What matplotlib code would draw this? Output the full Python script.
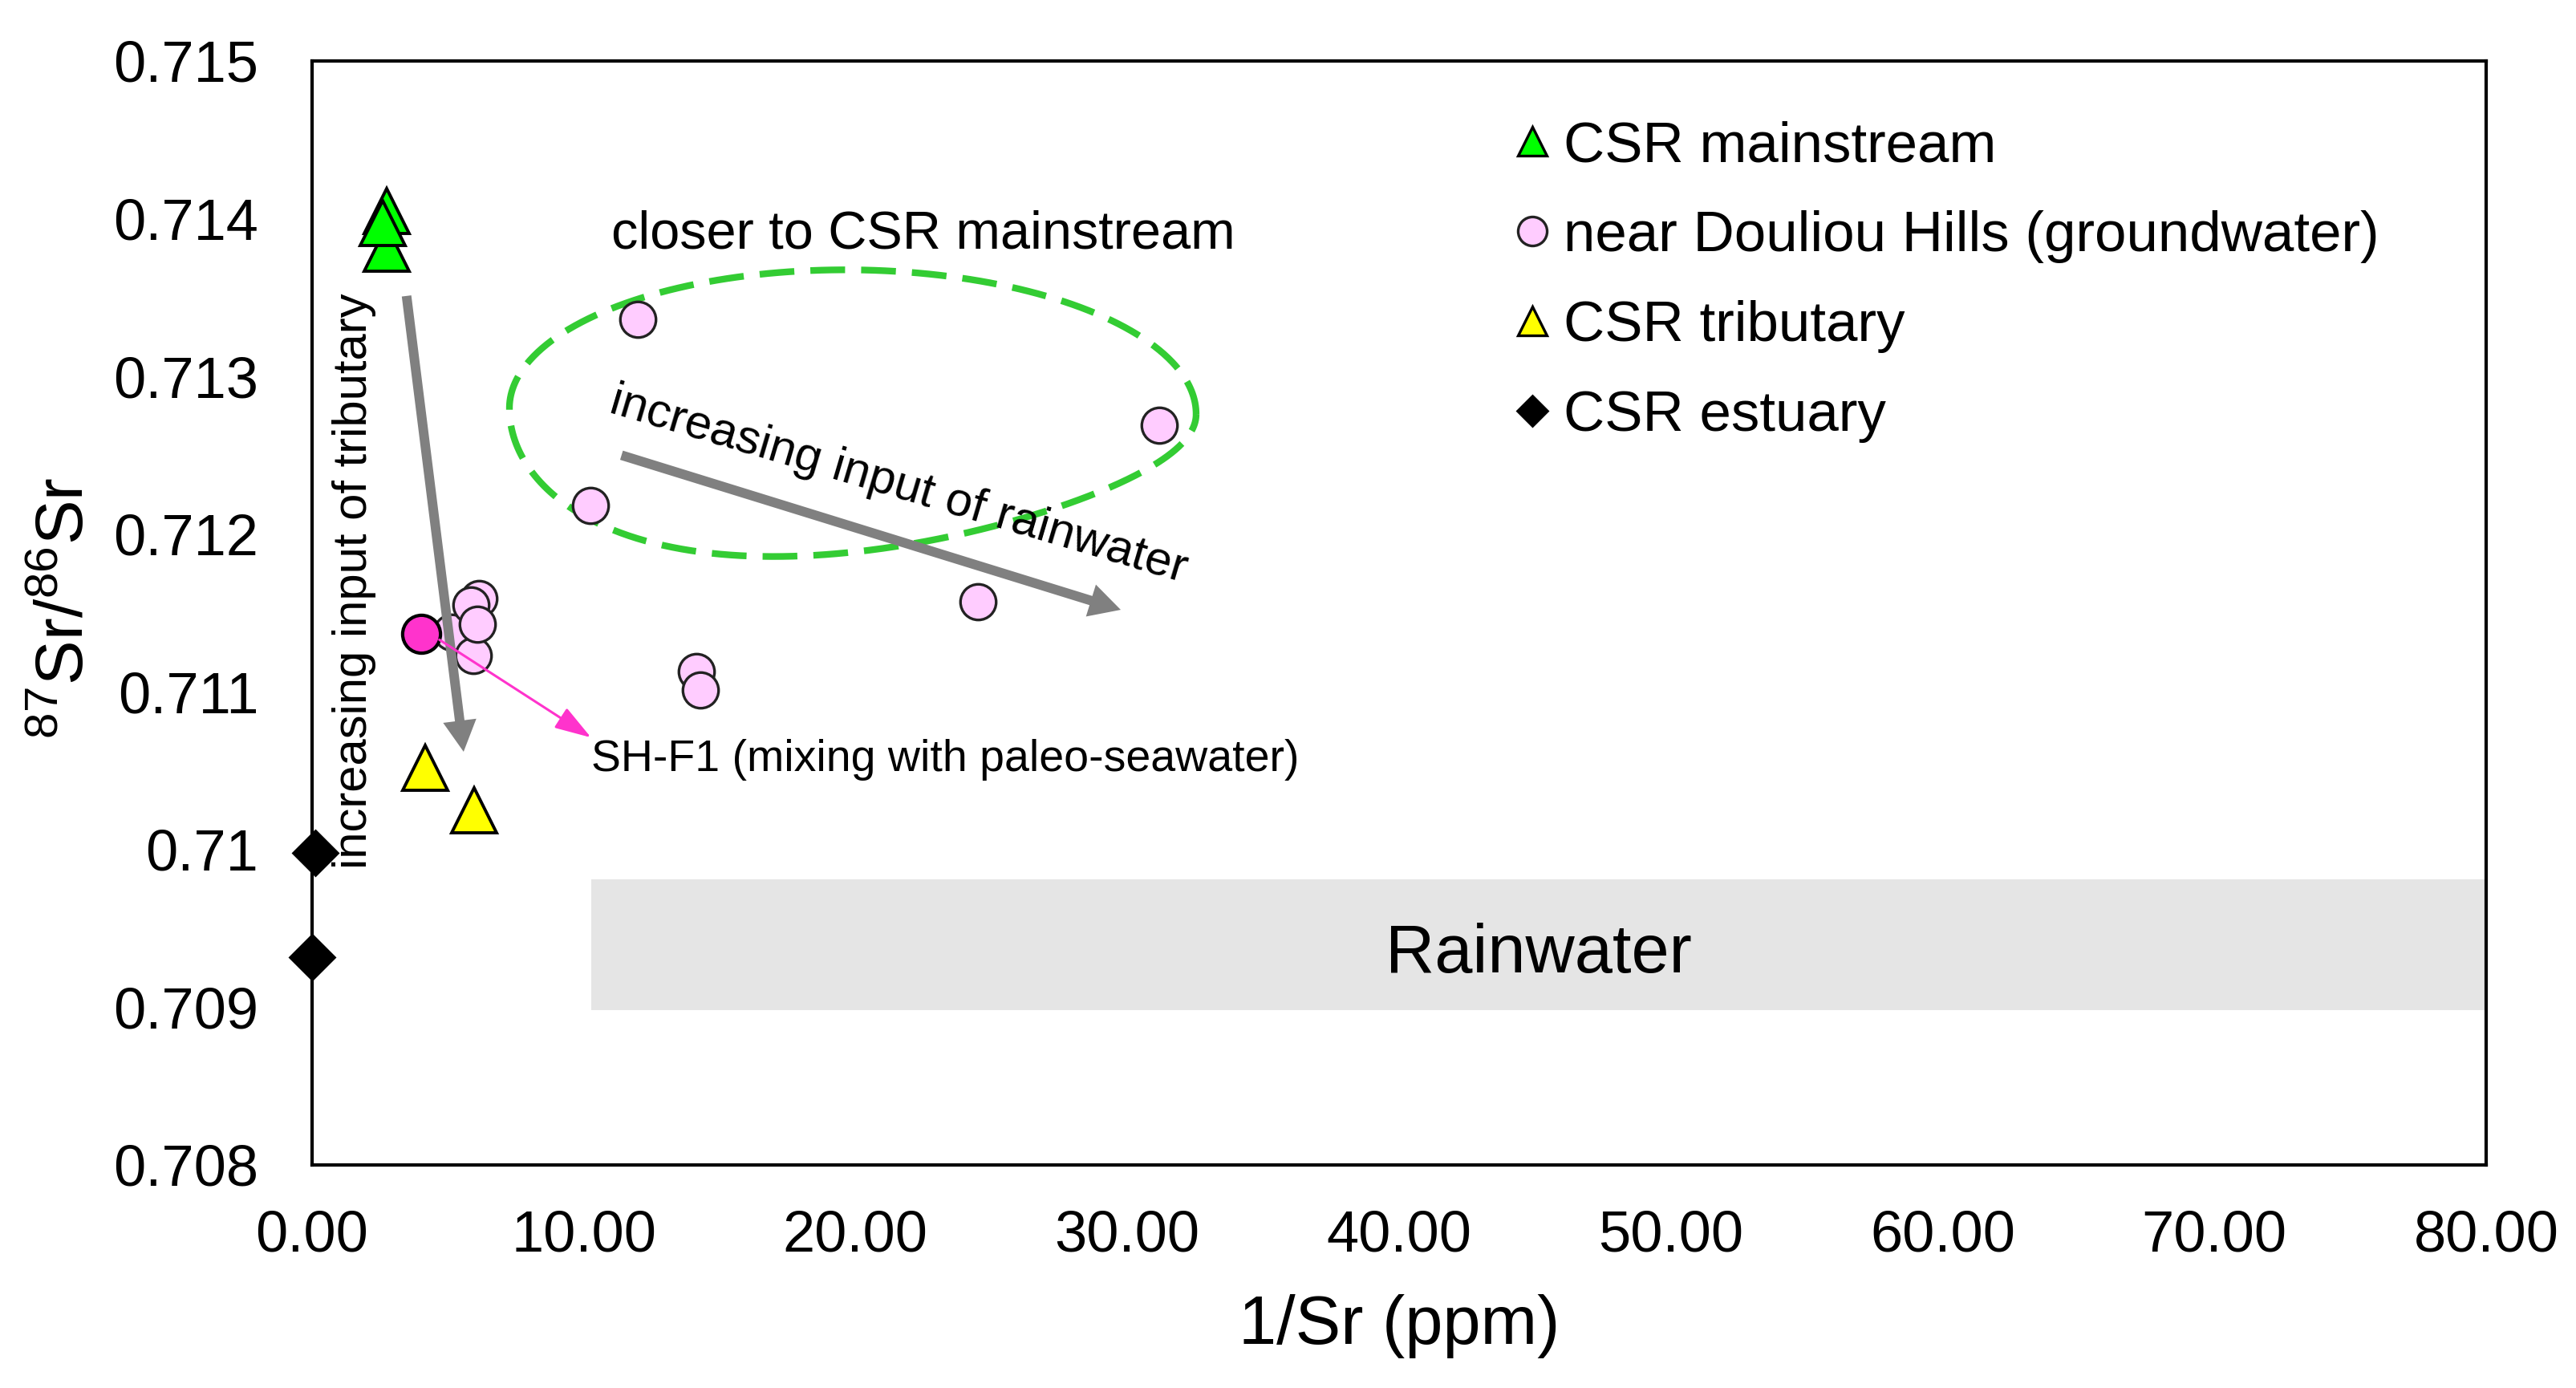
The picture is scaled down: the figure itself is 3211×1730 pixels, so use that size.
import numpy as np
import matplotlib
matplotlib.use('Agg')
import matplotlib.pyplot as plt
from matplotlib.lines import Line2D
from matplotlib.patches import Rectangle

plt.rcParams['font.family'] = ['Liberation Sans', 'DejaVu Sans']
plt.rcParams['mathtext.fontset'] = 'custom'
plt.rcParams['mathtext.rm'] = 'Liberation Sans'
plt.rcParams['mathtext.it'] = 'Liberation Sans:italic'

# ---------------- data ----------------
main_x = [2.75, 2.75, 2.60]
main_y = [0.71405, 0.71381, 0.71397]

gw_x = [11.98, 31.17, 10.24, 24.50, 14.14, 14.29, 5.14, 6.14, 5.85, 5.93, 6.08]
gw_y = [0.71336, 0.71269, 0.71218, 0.71157, 0.71113, 0.71101,
        0.71138, 0.71159, 0.71155, 0.71123, 0.71143]

shf1_x = [4.01]
shf1_y = [0.71137]

trib_x = [4.16, 5.96]
trib_y = [0.71052, 0.71025]

est_x = [0.12, 0.0]
est_y = [0.70998, 0.70932]

rain_x0, rain_x1 = 10.27, 80.0
rain_y0, rain_y1 = 0.70898, 0.70981

x_ticks = [0, 10, 20, 30, 40, 50, 60, 70, 80]
x_tick_labels = ['0.00', '10.00', '20.00', '30.00', '40.00', '50.00', '60.00', '70.00', '80.00']
y_ticks = [0.708, 0.709, 0.710, 0.711, 0.712, 0.713, 0.714, 0.715]
y_tick_labels = ['0.708', '0.709', '0.71', '0.711', '0.712', '0.713', '0.714', '0.715']

legend_labels = ['CSR mainstream', 'near Douliou Hills (groundwater)', 'CSR tributary', 'CSR estuary']

# ---------------- figure ----------------
W, H, DPI = 3211, 1730, 200
fig = plt.figure(figsize=(W / DPI, H / DPI), dpi=DPI)
ax_pos = [0.1211, 0.1607, 0.8440, 0.7954]
ax = fig.add_axes(ax_pos)
ax.set_xlim(0, 80)
ax.set_ylim(0.708, 0.715)

for sp in ax.spines.values():
    sp.set_linewidth(1.5)
    sp.set_color('black')

ax.set_xticks(x_ticks)
ax.set_xticklabels(x_tick_labels)
ax.set_yticks(y_ticks)
ax.set_yticklabels(y_tick_labels)
ax.tick_params(axis='both', length=0, labelsize=26)
ax.tick_params(axis='x', pad=20)
ax.tick_params(axis='y', pad=24)

# rainwater band
ax.add_patch(Rectangle((rain_x0, rain_y0), rain_x1 - rain_x0, rain_y1 - rain_y0,
                       facecolor='#E5E5E5', edgecolor='none', zorder=0.5, clip_on=False))
ax.text((rain_x0 + rain_x1) / 2, 0.70922, 'Rainwater', ha='center', va='baseline',
        fontsize=30.5, zorder=1)

# series
ax.plot(gw_x, gw_y, linestyle='none', marker='o', ms=16, mfc='#FFCCFF', mec='#222222',
        mew=1.2, zorder=3, clip_on=False)
ax.plot(shf1_x, shf1_y, linestyle='none', marker='o', ms=17, mfc='#FF33CC', mec='black',
        mew=1.5, zorder=3.2, clip_on=False)
ax.plot(main_x, main_y, linestyle='none', marker='^', ms=20.5, mfc='#00FF00', mec='black',
        mew=1.4, zorder=3, clip_on=False)
ax.plot(trib_x, trib_y, linestyle='none', marker='^', ms=20.5, mfc='#FFFF00', mec='black',
        mew=1.4, zorder=3, clip_on=False)
ax.plot(est_x, est_y, linestyle='none', marker='D', ms=14.5, mfc='black', mec='black',
        mew=1, zorder=3, clip_on=False)

# dashed green loop (built in pixel-like units, converted to data)
fig_w_px = fig.get_figwidth() * fig.dpi
fig_h_px = fig.get_figheight() * fig.dpi
sx = fig_w_px * ax_pos[2] / 80.0
sy = fig_h_px * ax_pos[3] / 0.007
t = np.linspace(0, 2 * np.pi, 600)
a_px, b_px, k, th = 428, 176, 0.28, np.deg2rad(-0.6)
u = a_px * np.cos(t)
v = b_px * np.sin(t)
v = np.where(v < 0, v * (1 - k * np.cos(t)), v)
ex = 19.9 + (u * np.cos(th) - v * np.sin(th)) / sx
ey = 0.71278 + (u * np.sin(th) + v * np.cos(th)) / sy
ax.plot(ex, ey, color='#33CC33', lw=3, dashes=(5.2, 2.4), zorder=2)

# gray arrows
gray_style = 'simple,head_length=1.4,head_width=1.5,tail_width=0.43'
ax.annotate('', xy=(5.58, 0.71062), xytext=(3.48, 0.71351),
            arrowprops=dict(arrowstyle=gray_style, fc='#808080', ec='none',
                            mutation_scale=10, shrinkA=0, shrinkB=0), zorder=4)
ax.annotate('', xy=(29.76, 0.71152), xytext=(11.39, 0.71250),
            arrowprops=dict(arrowstyle=gray_style, fc='#808080', ec='none',
                            mutation_scale=10, shrinkA=0, shrinkB=0), zorder=4)

# magenta arrow
ax.annotate('', xy=(10.27, 0.71071), xytext=(4.69, 0.71133),
            arrowprops=dict(arrowstyle='-|>,head_length=1.4,head_width=0.45',
                            fc='#FF33CC', ec='#FF33CC', lw=1.1,
                            mutation_scale=10, shrinkA=0, shrinkB=0), zorder=4)

# annotation texts
ax.text(11.01, 0.71381, 'closer to CSR mainstream', ha='left', va='baseline', fontsize=24)
ax.text(21.58, 0.71231, 'increasing input of rainwater', ha='center', va='center',
        rotation=-16.5, rotation_mode='anchor', fontsize=21.5, zorder=5)
ax.text(1.54, 0.7117, 'increasing input of tributary', ha='center', va='center',
        rotation=90, rotation_mode='anchor', fontsize=21.5, zorder=5)
ax.text(10.27, 0.7105, 'SH-F1 (mixing with paleo-seawater)', ha='left', va='baseline',
        fontsize=20, zorder=5)

# axis labels
ax.set_xlabel('1/Sr (ppm)', fontsize=30.5)
ax.xaxis.set_label_coords(0.5, -0.117)
fig.text(82 / W, 1 - 758 / H, r'$^{87}$Sr/$^{86}$Sr', rotation=90, ha='center', va='center',
         fontsize=30)

# legend
handles = [
    Line2D([], [], linestyle='none', marker='^', ms=13, mfc='#00FF00', mec='black', mew=1.2),
    Line2D([], [], linestyle='none', marker='o', ms=13, mfc='#FFCCFF', mec='#222222', mew=1.2),
    Line2D([], [], linestyle='none', marker='^', ms=13, mfc='#FFFF00', mec='black', mew=1.2),
    Line2D([], [], linestyle='none', marker='D', ms=9.5, mfc='black', mec='black', mew=1),
]
leg = fig.legend(handles, legend_labels, loc='upper left',
                 bbox_to_anchor=(1882 / W, 1 - 150 / H), frameon=False,
                 fontsize=25.5, handlelength=0.8, handletextpad=0.14,
                 labelspacing=0.65, borderpad=0, borderaxespad=0)

fig.savefig('out.png', dpi=DPI)
